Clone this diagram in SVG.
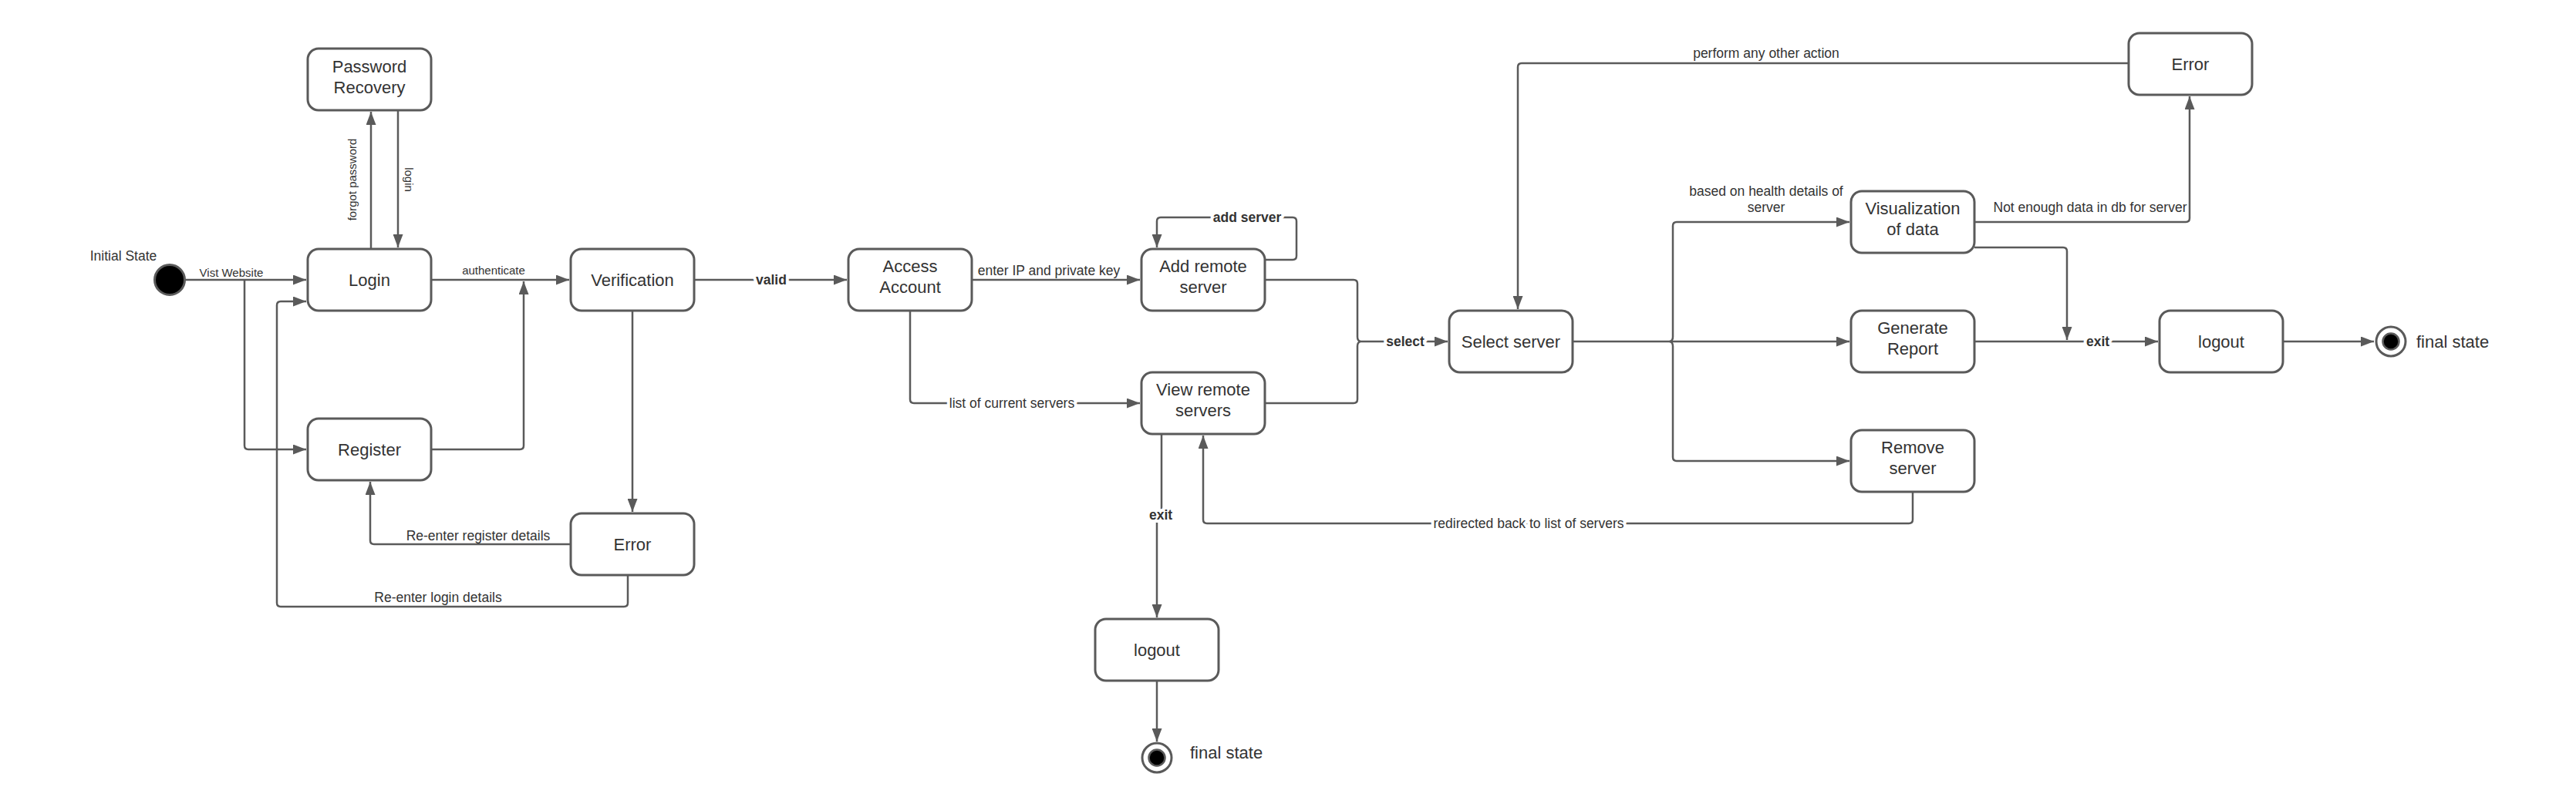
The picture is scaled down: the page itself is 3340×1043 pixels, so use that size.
<svg xmlns="http://www.w3.org/2000/svg" width="3340" height="1043" viewBox="0 0 3340 1043">
<style>
.n{fill:#fff;stroke:#5a5a5a;stroke-width:3}
.nt{font-family:"Liberation Sans",Arial,sans-serif;font-size:22px;fill:#333;text-anchor:middle}
.c{fill:none;stroke:#5a5a5a;stroke-width:2.5;stroke-linejoin:round}
.a{marker-end:url(#arr)}
.l{font-family:"Liberation Sans",Arial,sans-serif;font-size:17.5px;fill:#333;text-anchor:middle}
.s{font-size:15px}
.b{font-weight:bold}
.h{paint-order:stroke;stroke:#fff;stroke-width:8px;stroke-linejoin:round}
</style>
<defs>
<marker id="arr" markerUnits="userSpaceOnUse" markerWidth="17" markerHeight="13" refX="17" refY="6.5" orient="auto">
<path d="M0,0 L17,6.5 L0,13 z" fill="#5a5a5a"/>
</marker>
</defs>
<rect width="3340" height="1043" fill="#fff"/>
<g id="connectors">
<path class="c a" d="M240,363 H397"/>
<text class="l s" x="300" y="359">Vist Website</text>
<path class="c a" d="M317,363 V578 Q317,583 322,583 H397"/>
<path class="c a" d="M481,323 V145"/>
<text class="l s" transform="translate(462,233) rotate(-90)">forgot password</text>
<path class="c a" d="M516,143 V321"/>
<text class="l s" transform="translate(525,233) rotate(90)">login</text>
<path class="c a" d="M559,363 H738"/>
<text class="l s" x="640" y="356">authenticate</text>
<path class="c a" d="M560,583 H674 Q679,583 679,578 V365"/>
<path class="c a" d="M820,403 V664"/>
<path class="c a" d="M740,706 H485 Q480,706 480,701 V625"/>
<text class="l" x="620" y="701">Re-enter register details</text>
<path class="c a" d="M814,747 V782 Q814,787 809,787 H364 Q359,787 359,782 V396 Q359,391 364,391 H397"/>
<text class="l" x="568" y="781">Re-enter login details</text>
<path class="c a" d="M900,363 H1098"/>
<text class="l b h" x="1000" y="369">valid</text>
<path class="c a" d="M1260,363 H1478"/>
<text class="l" x="1360" y="357">enter IP and private key</text>
<path class="c a" d="M1180,403 V518 Q1180,523 1185,523 H1478"/>
<text class="l h" x="1312" y="529">list of current servers</text>
<path class="c a" d="M1640,337 H1676 Q1681,337 1681,332 V287 Q1681,282 1676,282 H1505 Q1500,282 1500,287 V321"/>
<text class="l b h" x="1617" y="288">add server</text>
<path class="c" d="M1640,363 H1755 Q1760,363 1760,368 V437 Q1760,442 1764,443"/>
<path class="c a" d="M1640,523 H1755 Q1760,523 1760,518 V449 Q1760,444 1764,443 H1877"/>
<text class="l b h" x="1822" y="449">select</text>
<path class="c a" d="M1506,563 V668 H1500 V801"/>
<text class="l b h" x="1505" y="674">exit</text>
<path class="c a" d="M1500,883 V962"/>
<path class="c a" d="M2760,82 H1973 Q1968,82 1968,87 V401"/>
<text class="l" x="2290" y="75">perform any other action</text>
<path class="c" d="M2039,443 H2165"/>
<path class="c a" d="M2165,443 Q2169,442 2169,437 V293 Q2169,288 2174,288 H2398"/>
<path class="c a" d="M2165,443 Q2169,444 2169,449 V593 Q2169,598 2174,598 H2398"/>
<path class="c a" d="M2165,443 H2398"/>
<text class="l" x="2290" y="254">based on health details of</text>
<text class="l" x="2290" y="275">server</text>
<path class="c a" d="M2560,288 H2834 Q2839,288 2839,283 V125"/>
<text class="l" x="2710" y="275">Not enough data in db for server</text>
<path class="c a" d="M2560,321 H2675 Q2680,321 2680,326 V441"/>
<path class="c a" d="M2560,443 H2798"/>
<text class="l b h" x="2720" y="449">exit</text>
<path class="c a" d="M2960,443 H3078"/>
<path class="c a" d="M2480,638 V674 Q2480,679 2475,679 H1565 Q1560,679 1560,674 V565"/>
<text class="l h" x="1982" y="685">redirected back to list of servers</text>
</g>
<g id="initial">
<circle cx="220" cy="363" r="19.5" fill="#000" stroke="#5a5a5a" stroke-width="3"/>
<text class="l" x="160" y="338">Initial State</text>
</g>
<g id="password-recovery"><rect class="n" x="399" y="63" width="160" height="80" rx="14"/><text class="nt" x="479" y="94">Password</text><text class="nt" x="479" y="121">Recovery</text></g>
<g id="login"><rect class="n" x="399" y="323" width="160" height="80" rx="14"/><text class="nt" x="479" y="371">Login</text></g>
<g id="register"><rect class="n" x="399" y="543" width="160" height="80" rx="14"/><text class="nt" x="479" y="591">Register</text></g>
<g id="verification"><rect class="n" x="740" y="323" width="160" height="80" rx="14"/><text class="nt" x="820" y="371">Verification</text></g>
<g id="error-login"><rect class="n" x="740" y="666" width="160" height="80" rx="14"/><text class="nt" x="820" y="714">Error</text></g>
<g id="access-account"><rect class="n" x="1100" y="323" width="160" height="80" rx="14"/><text class="nt" x="1180" y="353">Access</text><text class="nt" x="1180" y="380">Account</text></g>
<g id="add-remote"><rect class="n" x="1480" y="323" width="160" height="80" rx="14"/><text class="nt" x="1560" y="353">Add remote</text><text class="nt" x="1560" y="380">server</text></g>
<g id="view-remote"><rect class="n" x="1480" y="483" width="160" height="80" rx="14"/><text class="nt" x="1560" y="513">View remote</text><text class="nt" x="1560" y="540">servers</text></g>
<g id="logout-1"><rect class="n" x="1420" y="803" width="160" height="80" rx="14"/><text class="nt" x="1500" y="851">logout</text></g>
<g id="final-1">
<circle cx="1500" cy="983" r="19" fill="#fff" stroke="#5a5a5a" stroke-width="3"/>
<circle cx="1500" cy="983" r="10.5" fill="#000" stroke="#5a5a5a" stroke-width="2.5"/>
<text class="nt" x="1543" y="984" style="text-anchor:start">final state</text>
</g>
<g id="select-server"><rect class="n" x="1879" y="403" width="160" height="80" rx="14"/><text class="nt" x="1959" y="451">Select server</text></g>
<g id="visualization"><rect class="n" x="2400" y="248" width="160" height="80" rx="14"/><text class="nt" x="2480" y="278">Visualization</text><text class="nt" x="2480" y="305">of data</text></g>
<g id="generate-report"><rect class="n" x="2400" y="403" width="160" height="80" rx="14"/><text class="nt" x="2480" y="433">Generate</text><text class="nt" x="2480" y="460">Report</text></g>
<g id="remove-server"><rect class="n" x="2400" y="558" width="160" height="80" rx="14"/><text class="nt" x="2480" y="588">Remove</text><text class="nt" x="2480" y="615">server</text></g>
<g id="error-action"><rect class="n" x="2760" y="43" width="160" height="80" rx="14"/><text class="nt" x="2840" y="91">Error</text></g>
<g id="logout-2"><rect class="n" x="2800" y="403" width="160" height="80" rx="14"/><text class="nt" x="2880" y="451">logout</text></g>
<g id="final-2">
<circle cx="3100" cy="443" r="19" fill="#fff" stroke="#5a5a5a" stroke-width="3"/>
<circle cx="3100" cy="443" r="10.5" fill="#000" stroke="#5a5a5a" stroke-width="2.5"/>
<text class="nt" x="3133" y="451" style="text-anchor:start">final state</text>
</g>
</svg>
